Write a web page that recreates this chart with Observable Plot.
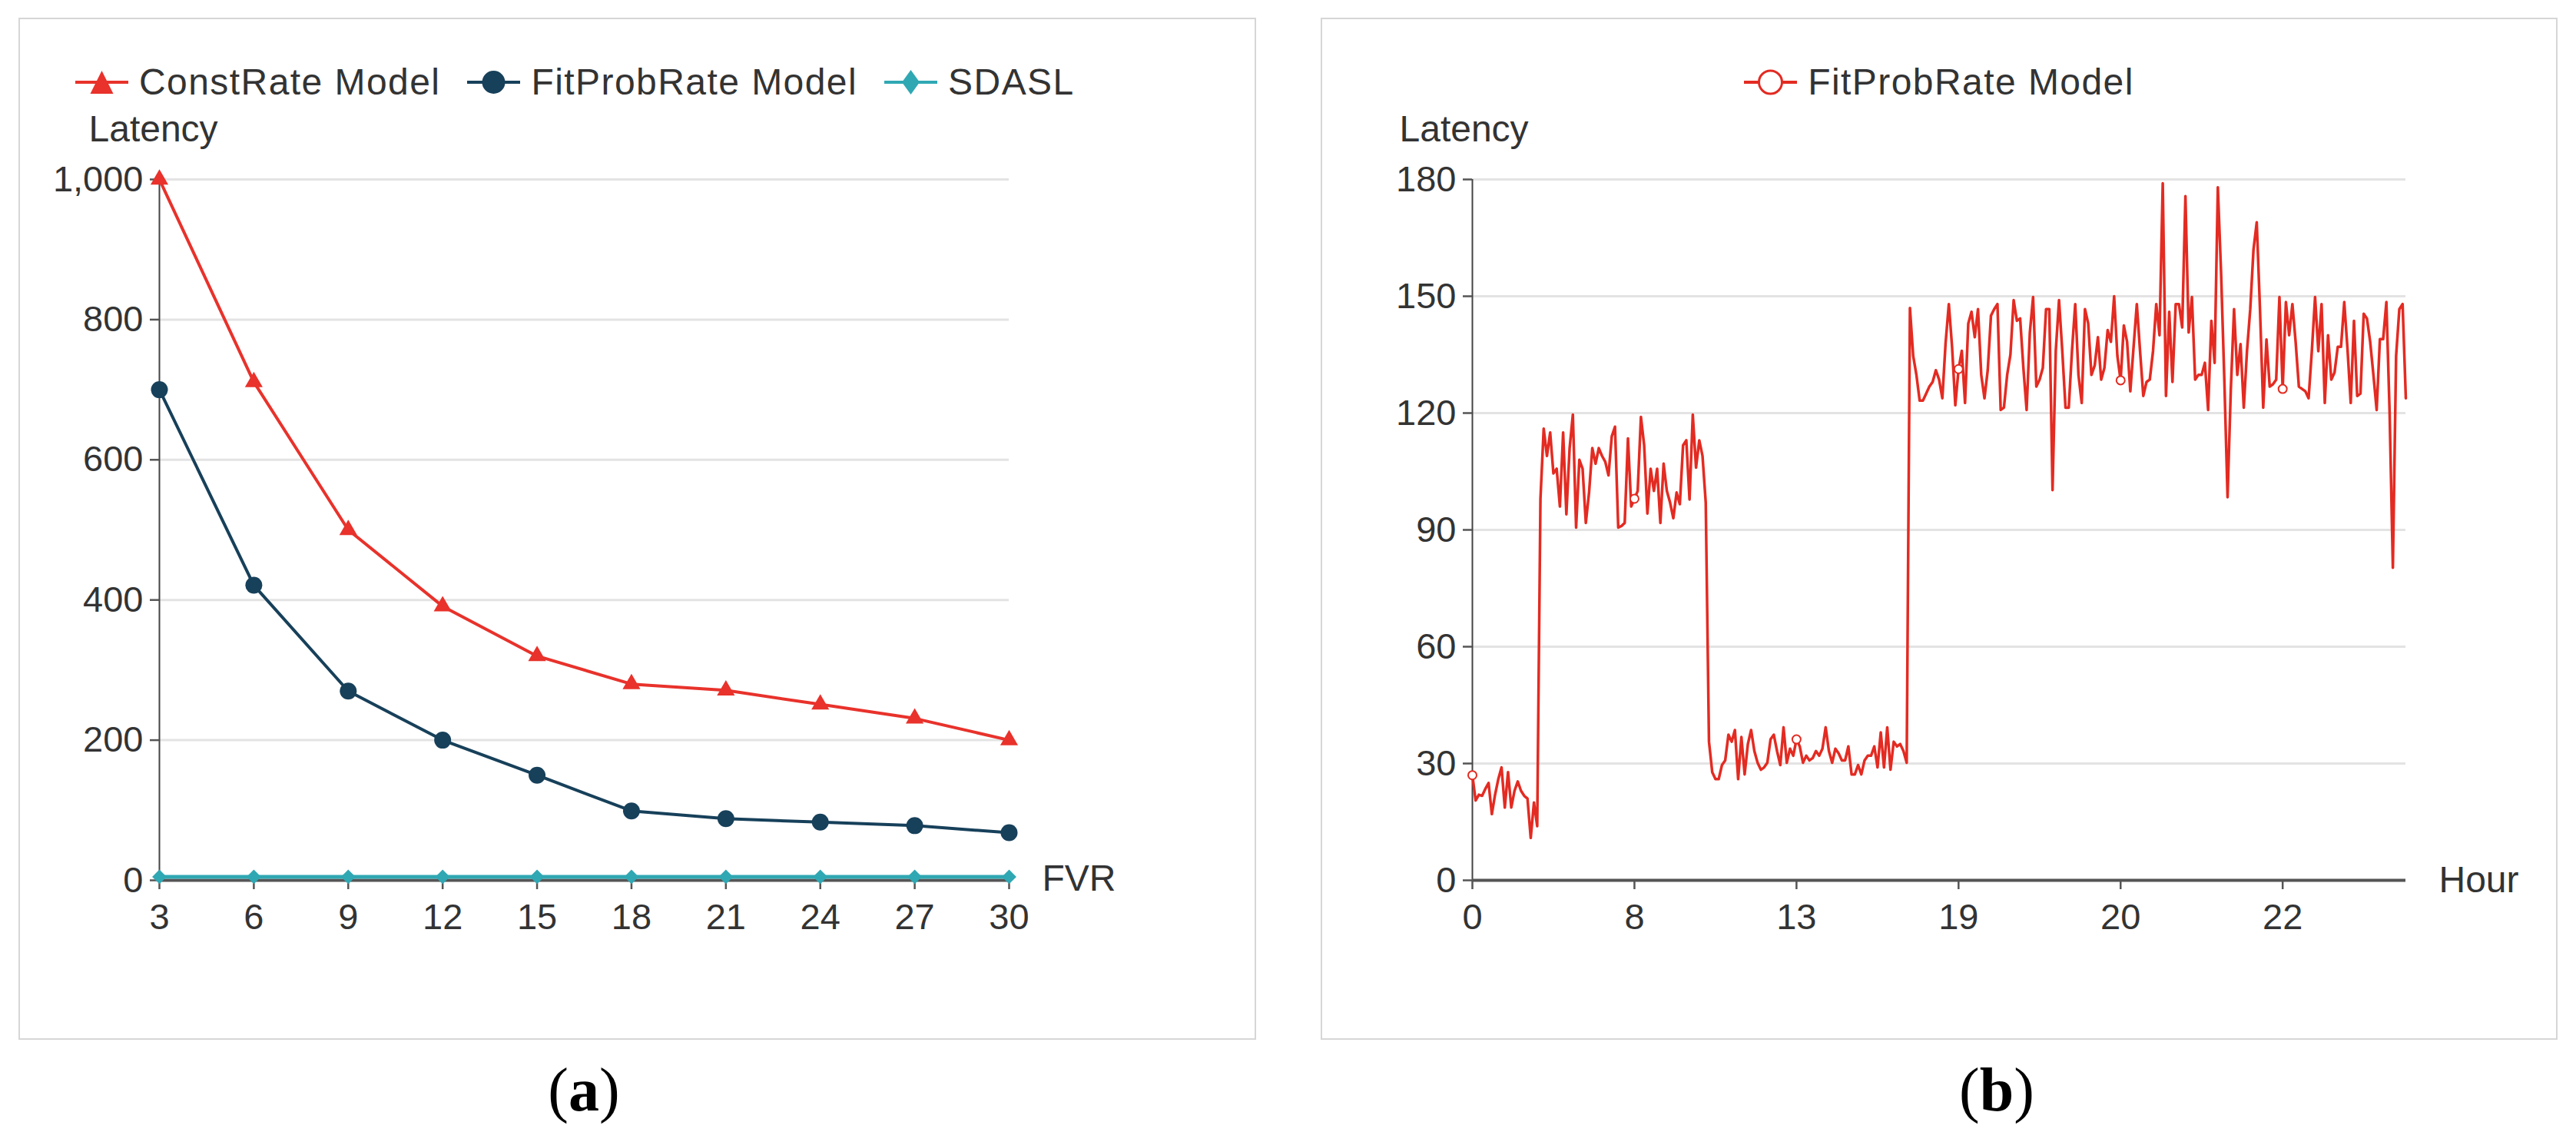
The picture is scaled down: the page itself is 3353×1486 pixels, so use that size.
<!DOCTYPE html>
<html><head><meta charset="utf-8">
<script src="https://cdn.jsdelivr.net/npm/d3@7"></script>
<script src="https://cdn.jsdelivr.net/npm/@observablehq/plot@0.6"></script>
<style>
html,body{margin:0;padding:0;background:#fff;}
body{position:relative;width:3353px;height:1486px;overflow:hidden;font-family:"Liberation Sans",Arial,sans-serif;color:#333;}
.box{position:absolute;border:2px solid #d6d6d6;box-sizing:border-box;}
.legend{position:absolute;display:flex;align-items:center;height:48px;line-height:48px;font-size:48px;letter-spacing:0.03em;white-space:nowrap;color:#333;}
.item{display:flex;align-items:center;margin-right:35px;}
.item:last-child{margin-right:0;}
.item svg{margin-right:14px;display:block;}
.chart{position:absolute;}
.caption{position:absolute;font-family:"Liberation Serif","Times New Roman",serif;font-size:80px;line-height:80px;color:#000;transform:translateX(-50%);white-space:nowrap;}
</style></head><body>
<div class="box" style="left:24px;top:23px;width:1611px;height:1330px"></div>
<div class="box" style="left:1719px;top:23px;width:1610px;height:1330px"></div>
<div id="legA" class="legend" style="left:98px;top:83px"></div>
<div id="legB" class="legend" style="left:1719px;top:83px;width:1610px;justify-content:center"></div>
<div id="chartA" class="chart" style="left:24px;top:130px"></div>
<div id="chartB" class="chart" style="left:1719px;top:130px"></div>
<div class="caption" style="left:760px;top:1378px">(<b>a</b>)</div>
<div class="caption" style="left:2599px;top:1378px">(<b>b</b>)</div>
<script>
// ---------- Data: panel (a) ----------
const fvr = [3, 6, 9, 12, 15, 18, 21, 24, 27, 30];
const constRate = [1000, 711, 500, 391, 320, 280, 271, 251, 231, 200];
const fitProbRate = [700, 421, 270, 200, 150, 99, 88, 83, 78, 68];
const sdasl = [5, 5, 5, 5, 5, 5, 5, 5, 5, 5];
const latencyTicksA = [0, 200, 400, 600, 800, 1000];

// ---------- Data: panel (b) ----------
const hourTickIndex = [0, 50, 100, 150, 200, 250];
const hourTickLabels = ["0", "8", "13", "19", "20", "22"];
const latencyTicksB = [0, 30, 60, 90, 120, 150, 180];
const hourlyLatency = [
  27, 20.5, 22, 21.7, 23.5, 25, 17, 22, 26, 29, 18.7, 27.8, 18.7, 23, 25.4, 23, 21.7, 21, 10.9, 20, 13.9,
  98, 116, 109, 115, 104.5, 105.7, 96, 115, 94, 111, 119.6, 90.6, 108, 105.7, 91.8, 99.6, 111, 107, 111, 109,
  107.5, 104, 114, 116.5, 90.6, 91, 91.8, 113.5, 96, 98, 100, 119, 111.7, 94.2, 105.7, 100, 105.7, 91.8, 107, 100,
  97, 93, 99.6, 96.6, 111.7, 113, 97.8, 119.6, 106, 113, 109, 97,
  35.6, 27.8, 26, 26, 29.6, 30.8, 37.4, 35.6, 38.6, 26, 36.8, 27.2, 35, 38.6, 33.2, 30.2, 28.4, 29, 30.2, 36.2,
  37.4, 33.2, 29.6, 39.3, 30.2, 33.8, 32, 36.2, 34.4, 30.2, 32, 30.8, 31.4, 33.2, 32, 33.8, 39.3, 33.2, 30.2, 33.8,
  32.6, 30.8, 30.8, 34.4, 27.2, 27.2, 29.6, 27.2, 30.8, 32, 32, 34.4, 29, 38, 29, 39.3, 28.4, 35.6, 34.4, 35, 33.2, 30.2,
  147, 134.7, 129.8, 123.2, 123.2,
  125, 126.8, 128, 131, 128.6, 123.8, 138, 148, 137, 122, 131.3, 136, 122.6, 143, 146, 139.5, 146.7, 129.8, 123.8, 131,
  145, 146.7, 148, 120.8, 121.4, 129.8, 135, 149, 143.7, 144.3, 131.6, 120.8, 140.7, 149.8, 126.8, 128.6, 131.6, 146.7, 146.7, 100.2,
  136, 149, 136, 121.4, 121.4, 136, 148, 129.8, 122.6, 146.7, 143, 129.8, 132.2, 139.5, 128.6, 131.6, 141.3, 138.3, 150, 134.7,
  128.4, 142.5, 138.3, 125.6, 137, 148, 135.9, 124.4, 128, 128.6, 135.9, 148, 140, 179, 124.4, 146, 128, 148,
  148, 142, 175.7, 140.7, 149.8, 128.6, 129.8, 129.8, 132.9, 120.8, 143.7, 132.9, 178, 156, 128.6, 98.4, 126, 146.7, 129.8, 137.7,
  121.4, 136, 146.7, 162, 169, 146.7, 121.4, 138.9, 126.8, 127.4, 128.6, 149.8, 126.2, 148.5, 140, 148, 138.3, 126.8, 126.2, 125.6,
  123.8, 135.9, 149.8, 135.9, 148, 122.6, 140, 128.6, 130.4, 137, 137, 148.5, 136.5, 122.6, 143.7, 124.4, 125, 145.5, 144.3, 138.3,
  129.8, 120.8, 139, 139, 148.5, 120, 80.3, 134.7, 146.7, 148, 123.8
];

// ---------- Styles ----------
const RED = "#e8322b", NAVY = "#17405a", TEAL = "#2fa8b3", RED_B = "#e32b22";
const GRID = "#e3e3e3", AXIS = "#555", TXT = "#333";
const FONT = "'Liberation Sans', Arial, sans-serif";

// ---------- Legends (HTML) ----------
function icon(kind, color) {
  let m = "";
  if (kind === "triangle") m = `<polygon points="19.5,36 49.5,36 34.5,6" fill="${color}"/>`;
  if (kind === "circle") m = `<circle cx="34.5" cy="21" r="15" fill="${color}"/>`;
  if (kind === "diamond") m = `<polygon points="34.5,5 46,21 34.5,37 23,21" fill="${color}"/>`;
  if (kind === "empty") m = `<circle cx="34.5" cy="21" r="15" fill="#fff" stroke="${color}" stroke-width="3"/>`;
  return `<svg width="69" height="42" viewBox="0 0 69 42"><line x1="0" y1="21" x2="69" y2="21" stroke="${color}" stroke-width="4"/>${m}</svg>`;
}
function legend(id, items) {
  document.getElementById(id).innerHTML = items.map(([k, c, t]) =>
    `<div class="item">${icon(k, c)}<span>${t}</span></div>`).join("");
}
legend("legA", [["triangle", RED, "ConstRate Model"], ["circle", NAVY, "FitProbRate Model"], ["diamond", TEAL, "SDASL"]]);
legend("legB", [["empty", RED_B, "FitProbRate Model"]]);

// ---------- Panel (a) ----------
const rowsA = fvr.flatMap((x, i) => [
  {x, y: constRate[i], s: "ConstRate Model"},
  {x, y: fitProbRate[i], s: "FitProbRate Model"},
  {x, y: sdasl[i], s: "SDASL"}
]);
const sel = s => rowsA.filter(d => d.s === s);

const chartA = Plot.plot({
  width: 1611, height: 1223,
  marginTop: 103, marginBottom: 208, marginLeft: 183, marginRight: 322,
  x: {type: "linear", domain: [3, 30], axis: null},
  y: {domain: [0, 1000], axis: null},
  style: {fontFamily: FONT, color: TXT, background: "transparent", overflow: "visible"},
  marks: [
    Plot.gridY(latencyTicksA.filter(d => d > 0), {stroke: GRID, strokeOpacity: 1, strokeWidth: 3}),
    Plot.ruleX([3], {y1: 0, y2: 1000, stroke: "#444", strokeWidth: 2}),
    Plot.axisY(latencyTicksA, {anchor: "left", tickSize: 12, tickPadding: 9, fontSize: 47, color: TXT, stroke: AXIS, strokeWidth: 2.5, tickFormat: d3.format(","), label: null}),
    Plot.axisX(fvr, {anchor: "bottom", tickSize: 12, tickPadding: 18, fontSize: 47, color: TXT, stroke: AXIS, strokeWidth: 2.5, tickFormat: d => String(d), label: null}),
    Plot.ruleY([0], {x1: 3, x2: 30, stroke: AXIS, strokeWidth: 4}),
    Plot.line(sel("ConstRate Model"), {x: "x", y: "y", stroke: RED, strokeWidth: 4}),
    Plot.line(sel("FitProbRate Model"), {x: "x", y: "y", stroke: NAVY, strokeWidth: 4}),
    Plot.line(sel("SDASL"), {x: "x", y: "y", stroke: TEAL, strokeWidth: 5}),
    Plot.dot(sel("ConstRate Model"), {x: "x", y: "y", symbol: "triangle", r: 8.6, fill: RED}),
    Plot.dot(sel("FitProbRate Model"), {x: "x", y: "y", symbol: "circle", r: 11, fill: NAVY}),
    Plot.dot(sel("SDASL"), {x: "x", y: "y", symbol: "diamond2", r: 8.5, fill: TEAL}),
    Plot.text(["Latency"], {text: d => d, frameAnchor: "top-left", dx: -92, dy: -65, textAnchor: "start", lineAnchor: "middle", fontSize: 48, fill: TXT}),
    Plot.text(["FVR"], {text: d => d, frameAnchor: "bottom-right", dx: 43, dy: -2, textAnchor: "start", lineAnchor: "middle", fontSize: 48, fill: TXT})
  ]
});
document.getElementById("chartA").appendChild(chartA);

// ---------- Panel (b) ----------
const rowsB = hourlyLatency.map((v, i) => ({i, v}));
const chartB = Plot.plot({
  width: 1610, height: 1223,
  marginTop: 103, marginBottom: 208, marginLeft: 197, marginRight: 198,
  x: {type: "linear", domain: [0, hourlyLatency.length - 1], axis: null},
  y: {domain: [0, 180], axis: null},
  style: {fontFamily: FONT, color: TXT, background: "transparent", overflow: "visible"},
  marks: [
    Plot.gridY(latencyTicksB.filter(d => d > 0), {stroke: GRID, strokeOpacity: 1, strokeWidth: 3}),
    Plot.ruleX([0], {y1: 0, y2: 180, stroke: "#444", strokeWidth: 2}),
    Plot.axisY(latencyTicksB, {anchor: "left", tickSize: 12, tickPadding: 9, fontSize: 47, color: TXT, stroke: AXIS, strokeWidth: 2.5, label: null}),
    Plot.axisX(hourTickIndex, {anchor: "bottom", tickSize: 12, tickPadding: 18, fontSize: 47, color: TXT, stroke: AXIS, strokeWidth: 2.5, tickFormat: d => hourTickLabels[hourTickIndex.indexOf(d)], label: null}),
    Plot.ruleY([0], {x1: 0, x2: hourlyLatency.length - 1, stroke: AXIS, strokeWidth: 4}),
    Plot.line(rowsB, {x: "i", y: "v", stroke: RED_B, strokeWidth: 3.5, strokeLinejoin: "round"}),
    Plot.dot(rowsB.filter(d => hourTickIndex.includes(d.i)), {x: "i", y: "v", r: 5.5, fill: "#fff", stroke: RED_B, strokeWidth: 2}),
    Plot.text(["Latency"], {text: d => d, frameAnchor: "top-left", dx: -95, dy: -65, textAnchor: "start", lineAnchor: "middle", fontSize: 48, fill: TXT}),
    Plot.text(["Hour"], {text: d => d, frameAnchor: "bottom-right", dx: 43, dy: 0, textAnchor: "start", lineAnchor: "middle", fontSize: 48, fill: TXT})
  ]
});
document.getElementById("chartB").appendChild(chartB);
</script>
</body></html>
